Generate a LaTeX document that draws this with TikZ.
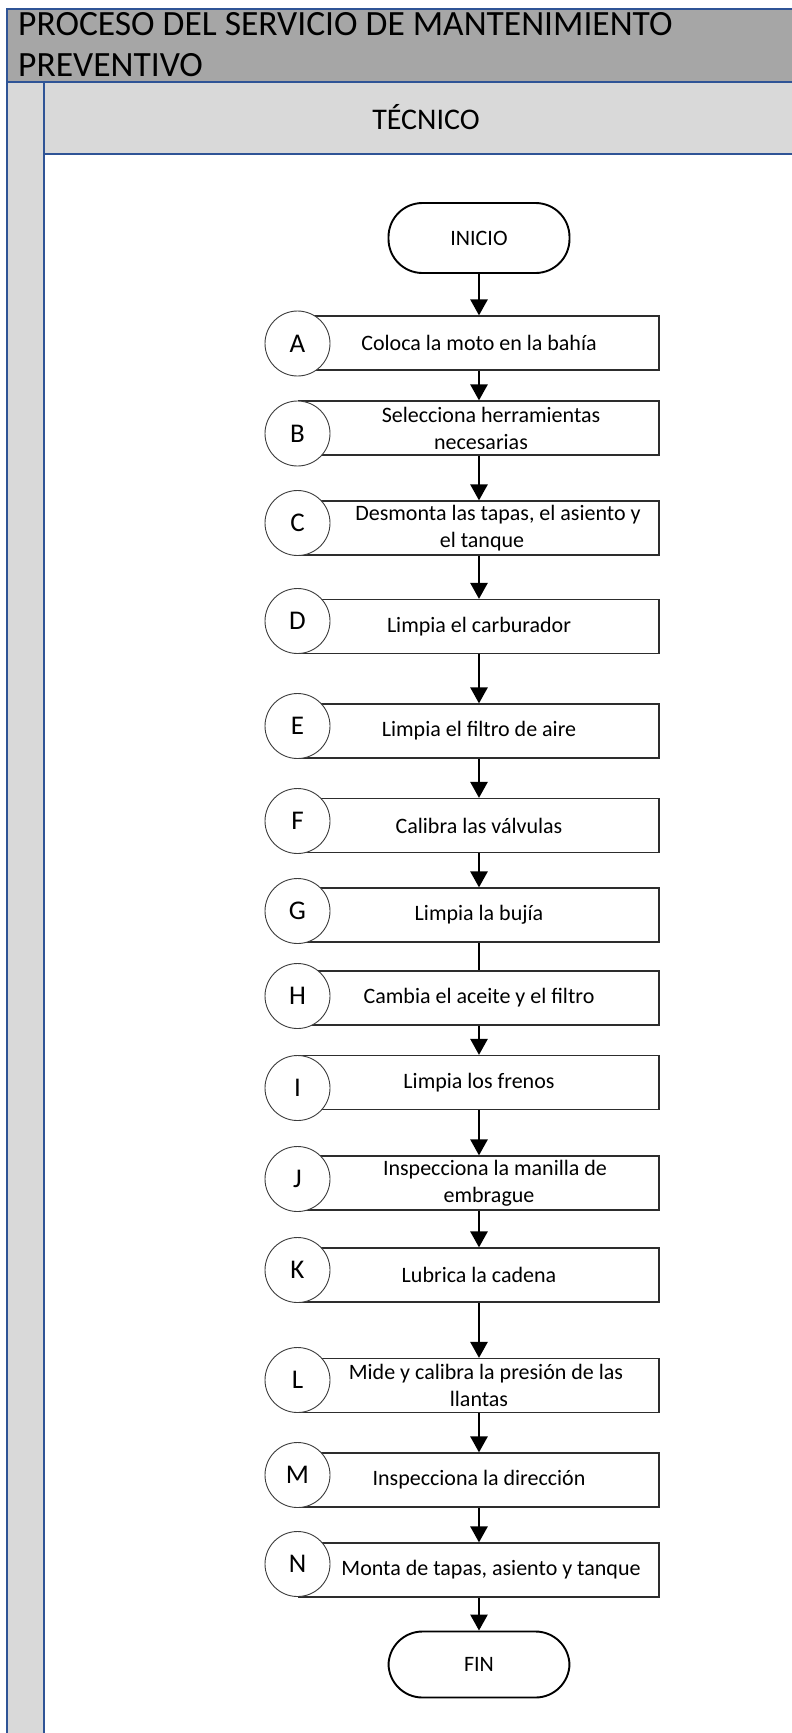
\documentclass[tikz,border=0pt]{standalone}
\usepackage{fontspec}
\setmainfont{Carlito}
\usetikzlibrary{arrows.meta}

\definecolor{lanecol}{RGB}{47,84,150}
\definecolor{titlefill}{RGB}{166,166,166}
\definecolor{bandfill}{RGB}{217,217,217}
\definecolor{boxline}{RGB}{45,45,45}
\definecolor{circline}{RGB}{60,60,60}

\tikzset{
  frameline/.style={draw=lanecol, line width=1.6pt},
  stepbox/.style={draw=boxline, line width=1.2pt, fill=white,
    minimum width=360pt, minimum height=54pt, inner sep=0pt,
    align=center, font=\fontsize{22}{27}\selectfont},
  letter/.style={circle, draw=circline, line width=0.9pt, fill=white,
    minimum size=65pt, inner sep=0pt, font=\fontsize{27}{30}\selectfont},
  terminal/.style={draw=black, line width=1.9pt, fill=white,
    minimum width=181pt, rounded corners=34pt, inner sep=0pt,
    font=\fontsize{22}{26}\selectfont},
  flow/.style={line width=2.6pt, -{Triangle[length=16pt,width=17pt]}},
  plainflow/.style={line width=2.6pt}
}

\begin{document}
\begin{tikzpicture}[x=1pt,y=-1pt]
\useasboundingbox (0,0) rectangle (792,1733);
\clip (0,0) rectangle (792,1733);

% pool header, swimlane header, left strip and lane body
\draw[frameline, fill=titlefill] (7,9) rectangle (806,82);
\draw[frameline, fill=bandfill] (7,82) rectangle (44,1745);
\draw[frameline, fill=bandfill] (44,82) rectangle (806,154);
\draw[frameline, fill=white] (44,154) rectangle (806,1745);

\node[anchor=base west, inner sep=0pt, font=\fontsize{35.5}{40}\selectfont]
  (title1) at (18,35) {PROCESO DEL SERVICIO DE MANTENIMIENTO};
\node[anchor=base west, inner sep=0pt, font=\fontsize{35.5}{40}\selectfont]
  (title2) at (18,76) {PREVENTIVO};
\node[anchor=base, inner sep=0pt, font=\fontsize{30}{34}\selectfont]
  (lane) at (426,129) {TÉCNICO};

% start and end terminals
\node[terminal, minimum height=70pt] (inicio) at (479,238) {INICIO};
\node[terminal, minimum height=66pt] (fin) at (479,1664.5) {FIN};

% process steps
\node[stepbox] (A) at (479,343) {Coloca la moto en la bahía};
\node[stepbox] (B) at (479,428) {\hspace*{24pt}Selecciona herramientas\\\hspace*{4pt}necesarias};
\node[stepbox] (C) at (479,528) {\hspace*{38pt}Desmonta las tapas, el asiento y\\\hspace*{6pt}el tanque};
\node[stepbox] (D) at (479,626.5) {Limpia el carburador};
\node[stepbox] (E) at (479,731) {Limpia el filtro de aire};
\node[stepbox] (F) at (479,825.5) {Calibra las válvulas};
\node[stepbox] (G) at (479,915) {Limpia la bujía};
\node[stepbox] (H) at (479,998) {Cambia el aceite y el filtro};
\node[stepbox] (I) at (479,1082.5) {Limpia los frenos};
\node[stepbox] (J) at (479,1183) {\hspace*{32pt}Inspecciona la manilla de\\\hspace*{20pt}embrague};
\node[stepbox] (K) at (479,1275) {Lubrica la cadena};
\node[stepbox] (L) at (479,1385.5) {\hspace*{14pt}Mide y calibra la presión de las\\llantas};
\node[stepbox] (M) at (479,1480) {Inspecciona la dirección};
\node[stepbox] (N) at (479,1570) {\hspace*{24pt}Monta de tapas, asiento y tanque};

% step letters
\node[letter] (cA) at (297.5,343.5) {A};
\node[letter] (cB) at (297.5,433.5) {B};
\node[letter] (cC) at (297.5,523) {C};
\node[letter] (cD) at (297.5,621) {D};
\node[letter] (cE) at (297.5,726) {E};
\node[letter] (cF) at (297.5,821) {F};
\node[letter] (cG) at (297.5,911) {G};
\node[letter] (cH) at (297.5,996) {H};
\node[letter] (cI) at (297.5,1088) {I};
\node[letter] (cJ) at (297.5,1179) {J};
\node[letter] (cK) at (297.5,1270) {K};
\node[letter] (cL) at (297.5,1380) {L};
\node[letter] (cM) at (297.5,1475) {M};
\node[letter] (cN) at (297.5,1564) {N};

% connectors
\draw[flow] (inicio.south) -- (A.north);
\draw[flow] (A.south) -- (B.north);
\draw[flow] (B.south) -- (C.north);
\draw[flow] (C.south) -- (D.north);
\draw[flow] (D.south) -- (E.north);
\draw[flow] (E.south) -- (F.north);
\draw[flow] (F.south) -- (G.north);
\draw[plainflow] (G.south) -- (H.north);
\draw[flow] (H.south) -- (I.north);
\draw[flow] (I.south) -- (J.north);
\draw[flow] (J.south) -- (K.north);
\draw[flow] (K.south) -- (L.north);
\draw[flow] (L.south) -- (M.north);
\draw[flow] (M.south) -- (N.north);
\draw[flow] (N.south) -- (fin.north);
\end{tikzpicture}
\end{document}
